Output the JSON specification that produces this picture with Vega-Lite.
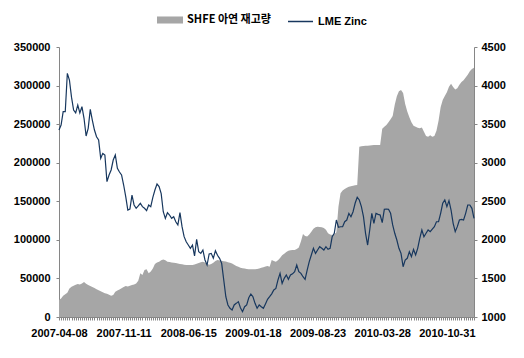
{
  "$schema": "https://vega.github.io/schema/vega-lite/v6.json",
  "autosize": {"type": "none"},
  "padding": {"left": 59, "top": 47, "right": 50, "bottom": 41},
  "width": 415,
  "height": 270,
  "background": "white",
  "config": {
    "view": {"stroke": null},
    "axis": {"labelFont": "Liberation Sans", "labelFontWeight": "bold", "labelFontSize": 11, "labelColor": "#000000", "domainColor": "#868686", "tickColor": "#868686", "grid": false, "title": null, "tickSize": 3}
  },
  "data": {"values": [
{"week":0,"shfe":22000,"lme":3424},{"week":1,"shfe":24000,"lme":3489},{"week":2,"shfe":27500,"lme":3661},{"week":3,"shfe":29500,"lme":3661},{"week":4,"shfe":31500,"lme":4159},
{"week":5,"shfe":37000,"lme":4072},{"week":6,"shfe":39300,"lme":3850},{"week":7,"shfe":40500,"lme":3683},{"week":8,"shfe":41800,"lme":3645},{"week":9,"shfe":42800,"lme":3748},
{"week":10,"shfe":42000,"lme":3645},{"week":11,"shfe":43500,"lme":3726},{"week":12,"shfe":45500,"lme":3576},{"week":13,"shfe":43000,"lme":3346},{"week":14,"shfe":41500,"lme":3446},
{"week":15,"shfe":40300,"lme":3692},{"week":16,"shfe":38800,"lme":3550},{"week":17,"shfe":37500,"lme":3424},{"week":18,"shfe":36000,"lme":3337},{"week":19,"shfe":34800,"lme":3294},
{"week":20,"shfe":33300,"lme":3057},{"week":21,"shfe":32000,"lme":3121},{"week":22,"shfe":30800,"lme":3100},{"week":23,"shfe":30200,"lme":2754},{"week":24,"shfe":29000,"lme":2841},
{"week":25,"shfe":27500,"lme":2906},{"week":26,"shfe":28500,"lme":3035},{"week":27,"shfe":32800,"lme":3100},{"week":28,"shfe":34300,"lme":2928},{"week":29,"shfe":35800,"lme":2880},
{"week":30,"shfe":37200,"lme":2841},{"week":31,"shfe":39000,"lme":2711},{"week":32,"shfe":40200,"lme":2560},{"week":33,"shfe":39500,"lme":2387},{"week":34,"shfe":40500,"lme":2400},
{"week":35,"shfe":41500,"lme":2581},{"week":36,"shfe":42000,"lme":2452},{"week":37,"shfe":43500,"lme":2409},{"week":38,"shfe":47000,"lme":2440},{"week":39,"shfe":56600,"lme":2474},
{"week":40,"shfe":54400,"lme":2430},{"week":41,"shfe":60900,"lme":2409},{"week":42,"shfe":62000,"lme":2378},{"week":43,"shfe":56600,"lme":2452},{"week":44,"shfe":59000,"lme":2430},
{"week":45,"shfe":63000,"lme":2550},{"week":46,"shfe":68700,"lme":2646},{"week":47,"shfe":70500,"lme":2724},{"week":48,"shfe":71700,"lme":2690},{"week":49,"shfe":73500,"lme":2600},
{"week":50,"shfe":74500,"lme":2365},{"week":51,"shfe":73500,"lme":2279},{"week":52,"shfe":71700,"lme":2352},{"week":53,"shfe":71200,"lme":2322},{"week":54,"shfe":70800,"lme":2279},
{"week":55,"shfe":70400,"lme":2300},{"week":56,"shfe":70000,"lme":2235},{"week":57,"shfe":69200,"lme":2193},{"week":58,"shfe":68700,"lme":2352},{"week":59,"shfe":68300,"lme":2171},
{"week":60,"shfe":67800,"lme":2041},{"week":61,"shfe":67400,"lme":1976},{"week":62,"shfe":67400,"lme":1933},{"week":63,"shfe":67400,"lme":1890},{"week":64,"shfe":67400,"lme":1933},
{"week":65,"shfe":68200,"lme":1791},{"week":66,"shfe":69000,"lme":2007},{"week":67,"shfe":70000,"lme":1846},{"week":68,"shfe":71000,"lme":1825},{"week":69,"shfe":71700,"lme":1868},
{"week":70,"shfe":70500,"lme":1739},{"week":71,"shfe":69000,"lme":1674},{"week":72,"shfe":67600,"lme":1817},{"week":73,"shfe":68800,"lme":1825},{"week":74,"shfe":70400,"lme":1761},
{"week":75,"shfe":72500,"lme":1859},{"week":76,"shfe":73900,"lme":1800},{"week":77,"shfe":73200,"lme":1761},{"week":78,"shfe":72800,"lme":1696},{"week":79,"shfe":72400,"lme":1480},
{"week":80,"shfe":71900,"lme":1263},{"week":81,"shfe":71000,"lme":1156},{"week":82,"shfe":70400,"lme":1113},{"week":83,"shfe":69400,"lme":1091},{"week":84,"shfe":67700,"lme":1156},
{"week":85,"shfe":66200,"lme":1177},{"week":86,"shfe":65100,"lme":1199},{"week":87,"shfe":64000,"lme":1120},{"week":88,"shfe":63200,"lme":1069},{"week":89,"shfe":62800,"lme":1134},
{"week":90,"shfe":62300,"lme":1156},{"week":91,"shfe":61900,"lme":1250},{"week":92,"shfe":61800,"lme":1298},{"week":93,"shfe":61800,"lme":1263},{"week":94,"shfe":61800,"lme":1177},
{"week":95,"shfe":62200,"lme":1113},{"week":96,"shfe":63000,"lme":1156},{"week":97,"shfe":63700,"lme":1134},{"week":98,"shfe":64400,"lme":1113},{"week":99,"shfe":65500,"lme":1170},
{"week":100,"shfe":66100,"lme":1230},{"week":101,"shfe":65200,"lme":1263},{"week":102,"shfe":73900,"lme":1300},{"week":103,"shfe":72500,"lme":1350},{"week":104,"shfe":71700,"lme":1370},
{"week":105,"shfe":73500,"lme":1480},{"week":106,"shfe":76500,"lme":1566},{"week":107,"shfe":79900,"lme":1436},{"week":108,"shfe":82000,"lme":1501},{"week":109,"shfe":84200,"lme":1544},
{"week":110,"shfe":85900,"lme":1488},{"week":111,"shfe":86500,"lme":1544},{"week":112,"shfe":86900,"lme":1560},{"week":113,"shfe":86900,"lme":1587},{"week":114,"shfe":88000,"lme":1674},
{"week":115,"shfe":90000,"lme":1587},{"week":116,"shfe":98000,"lme":1566},{"week":117,"shfe":107600,"lme":1522},{"week":118,"shfe":105000,"lme":1488},{"week":119,"shfe":104300,"lme":1609},
{"week":120,"shfe":107000,"lme":1717},{"week":121,"shfe":110500,"lme":1804},{"week":122,"shfe":114500,"lme":1890},{"week":123,"shfe":116300,"lme":1825},{"week":124,"shfe":117000,"lme":1868},
{"week":125,"shfe":116800,"lme":1911},{"week":126,"shfe":116300,"lme":1890},{"week":127,"shfe":115500,"lme":1868},{"week":128,"shfe":113000,"lme":1911},{"week":129,"shfe":108500,"lme":1877},
{"week":130,"shfe":107000,"lme":1890},{"week":131,"shfe":106300,"lme":2041},{"week":132,"shfe":107300,"lme":2085},{"week":133,"shfe":110000,"lme":2257},{"week":134,"shfe":143000,"lme":2163},
{"week":135,"shfe":160300,"lme":2170},{"week":136,"shfe":164000,"lme":2171},{"week":137,"shfe":166000,"lme":2235},{"week":138,"shfe":167500,"lme":2257},{"week":139,"shfe":168900,"lme":2344},
{"week":140,"shfe":169500,"lme":2300},{"week":141,"shfe":170000,"lme":2365},{"week":142,"shfe":170800,"lme":2474},{"week":143,"shfe":171100,"lme":2552},{"week":144,"shfe":220800,"lme":2517},
{"week":145,"shfe":221500,"lme":2430},{"week":146,"shfe":221700,"lme":2300},{"week":147,"shfe":221900,"lme":2085},{"week":148,"shfe":222100,"lme":1933},{"week":149,"shfe":222300,"lme":2128},
{"week":150,"shfe":222600,"lme":2344},{"week":151,"shfe":222900,"lme":2214},{"week":152,"shfe":223000,"lme":2344},{"week":153,"shfe":223000,"lme":2330},{"week":154,"shfe":223000,"lme":2322},
{"week":155,"shfe":244000,"lme":2224},{"week":156,"shfe":246500,"lme":2396},{"week":157,"shfe":248900,"lme":2400},{"week":158,"shfe":252500,"lme":2396},{"week":159,"shfe":256500,"lme":2344},
{"week":160,"shfe":260500,"lme":2193},{"week":161,"shfe":275000,"lme":2085},{"week":162,"shfe":286000,"lme":1998},{"week":163,"shfe":292500,"lme":1890},{"week":164,"shfe":294300,"lme":1825},
{"week":165,"shfe":290500,"lme":1652},{"week":166,"shfe":276000,"lme":1739},{"week":167,"shfe":266500,"lme":1761},{"week":168,"shfe":259000,"lme":1846},{"week":169,"shfe":252500,"lme":1782},
{"week":170,"shfe":248000,"lme":1877},{"week":171,"shfe":246500,"lme":1804},{"week":172,"shfe":245300,"lme":1890},{"week":173,"shfe":244600,"lme":2020},{"week":174,"shfe":245500,"lme":2128},
{"week":175,"shfe":240000,"lme":2041},{"week":176,"shfe":234500,"lme":2085},{"week":177,"shfe":233500,"lme":2128},{"week":178,"shfe":235500,"lme":2106},{"week":179,"shfe":233800,"lme":2140},
{"week":180,"shfe":234500,"lme":2171},{"week":181,"shfe":241500,"lme":2235},{"week":182,"shfe":254500,"lme":2235},{"week":183,"shfe":272000,"lme":2344},{"week":184,"shfe":281300,"lme":2474},
{"week":185,"shfe":286500,"lme":2517},{"week":186,"shfe":291500,"lme":2430},{"week":187,"shfe":298500,"lme":2508},{"week":188,"shfe":302200,"lme":2387},{"week":189,"shfe":298000,"lme":2214},
{"week":190,"shfe":294800,"lme":2106},{"week":191,"shfe":296500,"lme":2171},{"week":192,"shfe":301000,"lme":2257},{"week":193,"shfe":304500,"lme":2266},{"week":194,"shfe":307000,"lme":2257},
{"week":195,"shfe":310500,"lme":2344},{"week":196,"shfe":314000,"lme":2452},{"week":197,"shfe":318500,"lme":2452},{"week":198,"shfe":321500,"lme":2409},{"week":199,"shfe":323000,"lme":2279}
  ]},
  "encoding": {
    "x": {
      "field": "week", "type": "quantitative",
      "scale": {"domain": [0, 199], "nice": false, "zero": false},
      "axis": {
        "tickCount": 200, "labelOverlap": false, "labelPadding": 7, "labelFlush": false,
        "labelExpr": "datum.value % 31 == 0 ? timeFormat(datetime(2007, 3, 8 + datum.value * 7), '%Y-%m-%d') : ''"
      }
    }
  },
  "layer": [
    {
      "mark": {"type": "area", "interpolate": "linear"},
      "encoding": {
        "y": {"field": "shfe", "type": "quantitative",
              "scale": {"domain": [0, 350000], "nice": false},
              "axis": {"orient": "left", "values": [0, 50000, 100000, 150000, 200000, 250000, 300000, 350000], "format": "d", "labelPadding": 6}},
        "fill": {"datum": "SHFE 아연 재고량", "type": "nominal",
                 "scale": {"range": ["#a6a6a6"]},
                 "legend": {"orient": "none", "legendX": 98, "legendY": -40, "title": null, "padding": 0,
                            "symbolType": "M-1,-0.27L1,-0.27L1,0.27L-1,0.27Z", "symbolSize": 676, "symbolStrokeWidth": 0,
                            "labelOffset": 4, "labelFont": "Noto Sans CJK KR", "labelFontSize": 11, "labelFontWeight": "bold", "labelColor": "#000000"}}
      }
    },
    {
      "mark": {"type": "line", "strokeWidth": 1.2, "interpolate": "linear"},
      "encoding": {
        "y": {"field": "lme", "type": "quantitative",
              "scale": {"domain": [1000, 4500], "nice": false, "zero": false},
              "axis": {"orient": "right", "values": [1000, 1500, 2000, 2500, 3000, 3500, 4000, 4500], "format": "d", "labelPadding": 4}},
        "stroke": {"datum": "LME Zinc", "type": "nominal",
                   "scale": {"range": ["#17375e"]},
                   "legend": {"orient": "none", "legendX": 228, "legendY": -39, "title": null, "padding": 0,
                              "symbolType": "stroke", "symbolSize": 625, "symbolStrokeWidth": 1.5,
                              "labelOffset": 4, "labelFont": "Liberation Sans", "labelFontSize": 11, "labelFontWeight": "bold", "labelColor": "#000000"}}
      }
    }
  ],
  "resolve": {"scale": {"y": "independent"}}
}
